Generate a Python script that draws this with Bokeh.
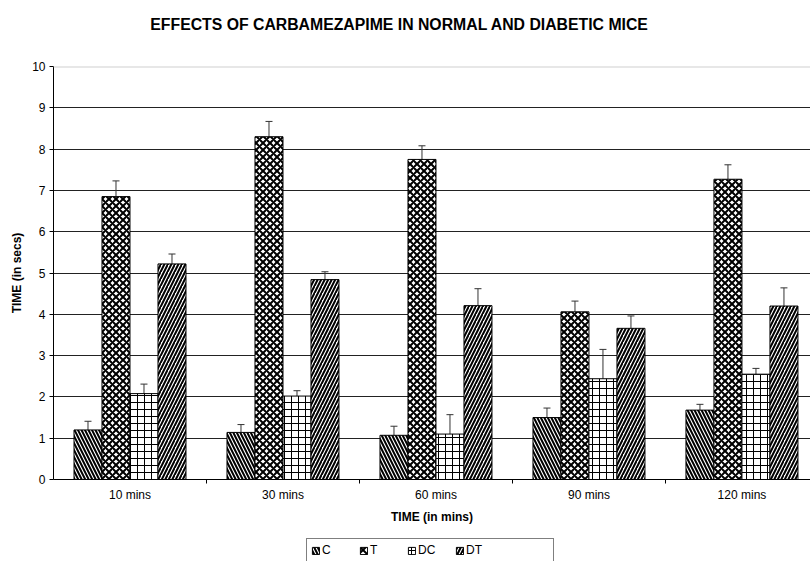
from bokeh.plotting import figure
from bokeh.layouts import column
from bokeh.models import (ColumnDataSource, Range1d, FixedTicker, Whisker, TeeHead,
                          Legend, LegendItem, Span, Label)
from bokeh.embed import file_html
from bokeh.resources import INLINE

# ---- data ----
title_text = "EFFECTS OF CARBAMEZAPIME IN  NORMAL AND DIABETIC MICE"
times = ["10 mins", "30 mins", "60 mins", "90 mins", "120 mins"]
series = ["C", "T", "DC", "DT"]
C = [1.20, 1.14, 1.07, 1.50, 1.68]
C_err = [0.21, 0.19, 0.22, 0.23, 0.14]
T = [6.85, 8.30, 7.75, 4.06, 7.27]
T_err = [0.38, 0.37, 0.33, 0.26, 0.35]
DC = [2.08, 2.02, 1.10, 2.44, 2.55]
DC_err = [0.23, 0.13, 0.47, 0.71, 0.14]
DT = [5.22, 4.84, 4.21, 3.66, 4.20]
DT_err = [0.24, 0.19, 0.41, 0.30, 0.44]
y_ticks = list(range(0, 11))

FONT = "Liberation Sans"
BAR_W = 0.183

# ---- title strip ----
tf = figure(width=810, height=48, output_backend="svg", toolbar_location=None,
            x_range=Range1d(0, 1), y_range=Range1d(0, 1),
            x_axis_location=None, y_axis_location=None,
            min_border_left=53, min_border_right=0, min_border_top=0, min_border_bottom=0)
tf.outline_line_color = None
tf.xgrid.visible = False
tf.ygrid.visible = False
tf.border_fill_color = "white"
tf.add_layout(Label(x=0.46, y=0.5, text=title_text, text_align="center",
                    text_baseline="middle", text_font=FONT, text_font_size="15.8px",
                    text_font_style="bold", text_color="black"))

# ---- main chart ----
p = figure(width=810, height=478, output_backend="svg", toolbar_location=None,
           x_range=Range1d(0, 4.948), y_range=Range1d(0, 10),
           min_border_left=53, min_border_right=0, min_border_top=18,
           min_border_bottom=47)
p.outline_line_color = None
p.background_fill_color = "white"
p.border_fill_color = "white"

styles = {
    "C": dict(hatch_pattern="\\", hatch_scale=7, hatch_weight=2),
    "T": dict(hatch_pattern="x", hatch_scale=7, hatch_weight=2),
    "DC": dict(hatch_pattern="+", hatch_scale=7, hatch_weight=1),
    "DT": dict(hatch_pattern="/", hatch_scale=7, hatch_weight=2),
}
values = {"C": (C, C_err), "T": (T, T_err), "DC": (DC, DC_err), "DT": (DT, DT_err)}

sources = {}
for k, name in enumerate(series):
    vals, errs = values[name]
    xs = [i + 0.5 + (k - 1.5) * BAR_W for i in range(len(times))]
    src = ColumnDataSource(dict(x=xs, top=vals,
                                upper=[v + e for v, e in zip(vals, errs)],
                                lower=[v - e for v, e in zip(vals, errs)]))
    sources[name] = src
    p.vbar(x="x", top="top", width=BAR_W, source=src, fill_color="white",
           line_color="black", line_width=1, hatch_color="black", **styles[name])
    w = Whisker(source=src, base="x", upper="upper", lower="lower",
                line_color="#333333", line_width=1,
                upper_head=TeeHead(size=7, line_color="#333333", line_width=1),
                lower_head=TeeHead(size=7, line_color="#333333", line_width=1))
    p.add_layout(w)

# grid
p.xgrid.visible = False
p.ygrid.ticker = FixedTicker(ticks=y_ticks[1:-1])
p.ygrid.grid_line_color = "#222222"
p.ygrid.grid_line_width = 1
p.add_layout(Span(location=10, dimension="width", line_color="#d0d0d0", line_width=2))

# y axis
p.yaxis.ticker = FixedTicker(ticks=y_ticks)
p.yaxis.major_tick_out = 4
p.yaxis.major_tick_in = 0
p.yaxis.minor_tick_line_color = None
p.yaxis.axis_line_color = "black"
p.yaxis.major_tick_line_color = "black"
p.yaxis.major_label_text_font = FONT
p.yaxis.major_label_text_font_size = "12px"
p.yaxis.major_label_text_color = "black"
p.yaxis.major_label_standoff = 4
p.yaxis.axis_label = "TIME (in secs)"
p.yaxis.axis_label_text_font = FONT
p.yaxis.axis_label_text_font_size = "12px"
p.yaxis.axis_label_text_font_style = "bold"
p.yaxis.axis_label_text_color = "black"
p.yaxis.axis_label_standoff = 5

# x axis
centers = [i + 0.5 for i in range(len(times))]
p.xaxis.ticker = FixedTicker(ticks=centers, minor_ticks=[1, 2, 3, 4])
p.xaxis.major_label_overrides = {c: t for c, t in zip(centers, times)}
p.xaxis.major_tick_out = 0
p.xaxis.major_tick_in = 0
p.xaxis.minor_tick_out = 4
p.xaxis.minor_tick_in = 0
p.xaxis.minor_tick_line_color = "black"
p.xaxis.axis_line_color = "black"
p.xaxis.major_label_text_font = FONT
p.xaxis.major_label_text_font_size = "12px"
p.xaxis.major_label_text_color = "black"
p.xaxis.major_label_standoff = 4
p.xaxis.axis_label = "TIME (in mins)"
p.xaxis.axis_label_text_font = FONT
p.xaxis.axis_label_text_font_size = "12px"
p.xaxis.axis_label_text_font_style = "bold"
p.xaxis.axis_label_text_color = "black"
p.xaxis.axis_label_standoff = 5

# ---- legend strip below the chart (bars kept out of its view) ----
lg = figure(width=810, height=35, output_backend="svg", toolbar_location=None,
            x_range=Range1d(0, 1), y_range=Range1d(20, 21),
            x_axis_location=None, y_axis_location=None,
            min_border_left=53, min_border_right=0, min_border_top=0, min_border_bottom=0)
lg.outline_line_color = None
lg.xgrid.visible = False
lg.ygrid.visible = False
lg.border_fill_color = "white"

items = []
for name in series:
    r = lg.vbar(x="x", top="top", width=BAR_W, source=sources[name], fill_color="white",
                line_color="black", line_width=1, hatch_color="black", **styles[name])
    items.append(LegendItem(label=name, renderers=[r]))
blank = lg.vbar(x="x", top="top", width=BAR_W, source=sources["C"], fill_alpha=0, line_alpha=0)
items.append(LegendItem(label="", renderers=[blank]))

legend = Legend(items=items, orientation="horizontal", location=(253, -1),
                glyph_width=9, glyph_height=9, label_standoff=2, label_width=35,
                spacing=2, padding=4, margin=0,
                label_text_font=FONT, label_text_font_size="12px",
                label_text_color="black",
                border_line_color="black", border_line_width=1,
                background_fill_color="white", background_fill_alpha=1)
lg.add_layout(legend)

layout = column(tf, p, lg, spacing=0)
open("out.html", "w").write(file_html(layout, INLINE))
